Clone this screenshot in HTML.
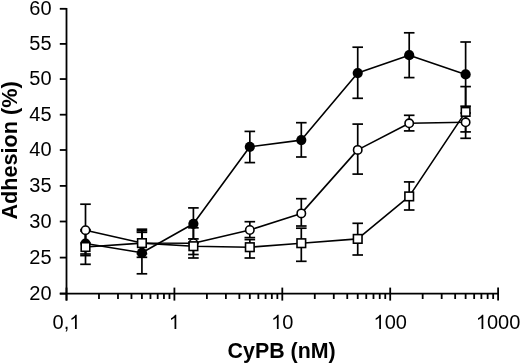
<!DOCTYPE html>
<html><head><meta charset="utf-8"><style>
html,body{margin:0;padding:0;background:#fff;width:520px;height:363px;overflow:hidden}
svg{display:block;will-change:transform}
.t{font-family:"Liberation Sans",sans-serif;font-size:20px;fill:#000}
.b{font-family:"Liberation Sans",sans-serif;font-size:21.5px;font-weight:bold;fill:#000}
</style></head><body>
<svg width="520" height="363" viewBox="0 0 520 363">
<line x1="66.5" y1="7.9" x2="66.5" y2="300.6" stroke="#000" stroke-width="1.8"/>
<line x1="59.8" y1="293.7" x2="499.00" y2="293.7" stroke="#000" stroke-width="1.8"/>
<line x1="59.8" y1="293.6" x2="66.5" y2="293.6" stroke="#000" stroke-width="1.8"/>
<text x="51.6" y="299.80" text-anchor="end" class="t">20</text>
<line x1="59.8" y1="257.6" x2="66.5" y2="257.6" stroke="#000" stroke-width="1.8"/>
<text x="51.6" y="263.80" text-anchor="end" class="t">25</text>
<line x1="59.8" y1="221.5" x2="66.5" y2="221.5" stroke="#000" stroke-width="1.8"/>
<text x="51.6" y="227.70" text-anchor="end" class="t">30</text>
<line x1="59.8" y1="185.9" x2="66.5" y2="185.9" stroke="#000" stroke-width="1.8"/>
<text x="51.6" y="192.10" text-anchor="end" class="t">35</text>
<line x1="59.8" y1="150.0" x2="66.5" y2="150.0" stroke="#000" stroke-width="1.8"/>
<text x="51.6" y="156.20" text-anchor="end" class="t">40</text>
<line x1="59.8" y1="114.7" x2="66.5" y2="114.7" stroke="#000" stroke-width="1.8"/>
<text x="51.6" y="120.90" text-anchor="end" class="t">45</text>
<line x1="59.8" y1="79.05" x2="66.5" y2="79.05" stroke="#000" stroke-width="1.8"/>
<text x="51.6" y="85.25" text-anchor="end" class="t">50</text>
<line x1="59.8" y1="43.9" x2="66.5" y2="43.9" stroke="#000" stroke-width="1.8"/>
<text x="51.6" y="50.10" text-anchor="end" class="t">55</text>
<line x1="59.8" y1="8.8" x2="66.5" y2="8.8" stroke="#000" stroke-width="1.8"/>
<text x="51.6" y="15.00" text-anchor="end" class="t">60</text>
<line x1="66.50" y1="287.6" x2="66.50" y2="300.6" stroke="#000" stroke-width="1.8"/>
<text x="52.60" y="329.0" class="t">0</text>
<text x="63.72" y="329.0" class="t">,</text>
<path transform="translate(69.28,329.0) scale(0.009766,-0.009766)" d="M583 0L763 0L763 1450L646 1450C615 1410 560 1340 486 1276C410 1210 320 1150 222 1104L222 930C280 952 340 982 412 1023C480 1062 540 1105 583 1147Z" fill="#000"/>
<line x1="98.98" y1="293.7" x2="98.98" y2="299" stroke="#000" stroke-width="1.8"/>
<line x1="117.98" y1="293.7" x2="117.98" y2="299" stroke="#000" stroke-width="1.8"/>
<line x1="131.46" y1="293.7" x2="131.46" y2="299" stroke="#000" stroke-width="1.8"/>
<line x1="141.92" y1="293.7" x2="141.92" y2="299" stroke="#000" stroke-width="1.8"/>
<line x1="150.46" y1="293.7" x2="150.46" y2="299" stroke="#000" stroke-width="1.8"/>
<line x1="157.69" y1="293.7" x2="157.69" y2="299" stroke="#000" stroke-width="1.8"/>
<line x1="163.94" y1="293.7" x2="163.94" y2="299" stroke="#000" stroke-width="1.8"/>
<line x1="169.46" y1="293.7" x2="169.46" y2="299" stroke="#000" stroke-width="1.8"/>
<line x1="174.40" y1="287.6" x2="174.40" y2="300.6" stroke="#000" stroke-width="1.8"/>
<path transform="translate(168.84,329.0) scale(0.009766,-0.009766)" d="M583 0L763 0L763 1450L646 1450C615 1410 560 1340 486 1276C410 1210 320 1150 222 1104L222 930C280 952 340 982 412 1023C480 1062 540 1105 583 1147Z" fill="#000"/>
<line x1="206.88" y1="293.7" x2="206.88" y2="299" stroke="#000" stroke-width="1.8"/>
<line x1="225.88" y1="293.7" x2="225.88" y2="299" stroke="#000" stroke-width="1.8"/>
<line x1="239.36" y1="293.7" x2="239.36" y2="299" stroke="#000" stroke-width="1.8"/>
<line x1="249.82" y1="293.7" x2="249.82" y2="299" stroke="#000" stroke-width="1.8"/>
<line x1="258.36" y1="293.7" x2="258.36" y2="299" stroke="#000" stroke-width="1.8"/>
<line x1="265.59" y1="293.7" x2="265.59" y2="299" stroke="#000" stroke-width="1.8"/>
<line x1="271.84" y1="293.7" x2="271.84" y2="299" stroke="#000" stroke-width="1.8"/>
<line x1="277.36" y1="293.7" x2="277.36" y2="299" stroke="#000" stroke-width="1.8"/>
<line x1="282.30" y1="287.6" x2="282.30" y2="300.6" stroke="#000" stroke-width="1.8"/>
<path transform="translate(271.18,329.0) scale(0.009766,-0.009766)" d="M583 0L763 0L763 1450L646 1450C615 1410 560 1340 486 1276C410 1210 320 1150 222 1104L222 930C280 952 340 982 412 1023C480 1062 540 1105 583 1147Z" fill="#000"/>
<text x="282.30" y="329.0" class="t">0</text>
<line x1="314.78" y1="293.7" x2="314.78" y2="299" stroke="#000" stroke-width="1.8"/>
<line x1="333.78" y1="293.7" x2="333.78" y2="299" stroke="#000" stroke-width="1.8"/>
<line x1="347.26" y1="293.7" x2="347.26" y2="299" stroke="#000" stroke-width="1.8"/>
<line x1="357.72" y1="293.7" x2="357.72" y2="299" stroke="#000" stroke-width="1.8"/>
<line x1="366.26" y1="293.7" x2="366.26" y2="299" stroke="#000" stroke-width="1.8"/>
<line x1="373.49" y1="293.7" x2="373.49" y2="299" stroke="#000" stroke-width="1.8"/>
<line x1="379.74" y1="293.7" x2="379.74" y2="299" stroke="#000" stroke-width="1.8"/>
<line x1="385.26" y1="293.7" x2="385.26" y2="299" stroke="#000" stroke-width="1.8"/>
<line x1="390.20" y1="287.6" x2="390.20" y2="300.6" stroke="#000" stroke-width="1.8"/>
<path transform="translate(373.52,329.0) scale(0.009766,-0.009766)" d="M583 0L763 0L763 1450L646 1450C615 1410 560 1340 486 1276C410 1210 320 1150 222 1104L222 930C280 952 340 982 412 1023C480 1062 540 1105 583 1147Z" fill="#000"/>
<text x="384.64" y="329.0" class="t">0</text>
<text x="395.76" y="329.0" class="t">0</text>
<line x1="422.68" y1="293.7" x2="422.68" y2="299" stroke="#000" stroke-width="1.8"/>
<line x1="441.68" y1="293.7" x2="441.68" y2="299" stroke="#000" stroke-width="1.8"/>
<line x1="455.16" y1="293.7" x2="455.16" y2="299" stroke="#000" stroke-width="1.8"/>
<line x1="465.62" y1="293.7" x2="465.62" y2="299" stroke="#000" stroke-width="1.8"/>
<line x1="474.16" y1="293.7" x2="474.16" y2="299" stroke="#000" stroke-width="1.8"/>
<line x1="481.39" y1="293.7" x2="481.39" y2="299" stroke="#000" stroke-width="1.8"/>
<line x1="487.64" y1="293.7" x2="487.64" y2="299" stroke="#000" stroke-width="1.8"/>
<line x1="493.16" y1="293.7" x2="493.16" y2="299" stroke="#000" stroke-width="1.8"/>
<line x1="498.10" y1="287.6" x2="498.10" y2="300.6" stroke="#000" stroke-width="1.8"/>
<path transform="translate(475.86,329.0) scale(0.009766,-0.009766)" d="M583 0L763 0L763 1450L646 1450C615 1410 560 1340 486 1276C410 1210 320 1150 222 1104L222 930C280 952 340 982 412 1023C480 1062 540 1105 583 1147Z" fill="#000"/>
<text x="486.98" y="329.0" class="t">0</text>
<text x="498.10" y="329.0" class="t">0</text>
<text x="509.22" y="329.0" class="t">0</text>
<line x1="85.50" y1="231" x2="85.50" y2="254" stroke="#000" stroke-width="1.7"/>
<line x1="80.20" y1="231" x2="90.80" y2="231" stroke="#000" stroke-width="1.7"/>
<line x1="80.20" y1="254" x2="90.80" y2="254" stroke="#000" stroke-width="1.7"/>
<line x1="141.92" y1="230.8" x2="141.92" y2="273.8" stroke="#000" stroke-width="1.7"/>
<line x1="136.62" y1="230.8" x2="147.22" y2="230.8" stroke="#000" stroke-width="1.7"/>
<line x1="136.62" y1="273.8" x2="147.22" y2="273.8" stroke="#000" stroke-width="1.7"/>
<line x1="193.40" y1="207.9" x2="193.40" y2="238.9" stroke="#000" stroke-width="1.7"/>
<line x1="188.10" y1="207.9" x2="198.70" y2="207.9" stroke="#000" stroke-width="1.7"/>
<line x1="188.10" y1="238.9" x2="198.70" y2="238.9" stroke="#000" stroke-width="1.7"/>
<line x1="249.82" y1="131.4" x2="249.82" y2="162.6" stroke="#000" stroke-width="1.7"/>
<line x1="244.52" y1="131.4" x2="255.12" y2="131.4" stroke="#000" stroke-width="1.7"/>
<line x1="244.52" y1="162.6" x2="255.12" y2="162.6" stroke="#000" stroke-width="1.7"/>
<line x1="301.30" y1="122.7" x2="301.30" y2="157.0" stroke="#000" stroke-width="1.7"/>
<line x1="296.00" y1="122.7" x2="306.60" y2="122.7" stroke="#000" stroke-width="1.7"/>
<line x1="296.00" y1="157.0" x2="306.60" y2="157.0" stroke="#000" stroke-width="1.7"/>
<line x1="357.72" y1="47.2" x2="357.72" y2="98.3" stroke="#000" stroke-width="1.7"/>
<line x1="352.42" y1="47.2" x2="363.02" y2="47.2" stroke="#000" stroke-width="1.7"/>
<line x1="352.42" y1="98.3" x2="363.02" y2="98.3" stroke="#000" stroke-width="1.7"/>
<line x1="409.20" y1="32.8" x2="409.20" y2="77.6" stroke="#000" stroke-width="1.7"/>
<line x1="403.90" y1="32.8" x2="414.50" y2="32.8" stroke="#000" stroke-width="1.7"/>
<line x1="403.90" y1="77.6" x2="414.50" y2="77.6" stroke="#000" stroke-width="1.7"/>
<line x1="465.62" y1="42" x2="465.62" y2="106.2" stroke="#000" stroke-width="1.7"/>
<line x1="460.32" y1="42" x2="470.92" y2="42" stroke="#000" stroke-width="1.7"/>
<line x1="460.32" y1="106.2" x2="470.92" y2="106.2" stroke="#000" stroke-width="1.7"/>
<line x1="85.50" y1="204.2" x2="85.50" y2="255.6" stroke="#000" stroke-width="1.7"/>
<line x1="80.20" y1="204.2" x2="90.80" y2="204.2" stroke="#000" stroke-width="1.7"/>
<line x1="80.20" y1="255.6" x2="90.80" y2="255.6" stroke="#000" stroke-width="1.7"/>
<line x1="141.92" y1="232.3" x2="141.92" y2="253.7" stroke="#000" stroke-width="1.7"/>
<line x1="136.62" y1="232.3" x2="147.22" y2="232.3" stroke="#000" stroke-width="1.7"/>
<line x1="136.62" y1="253.7" x2="147.22" y2="253.7" stroke="#000" stroke-width="1.7"/>
<line x1="193.40" y1="227.8" x2="193.40" y2="258" stroke="#000" stroke-width="1.7"/>
<line x1="188.10" y1="227.8" x2="198.70" y2="227.8" stroke="#000" stroke-width="1.7"/>
<line x1="188.10" y1="258" x2="198.70" y2="258" stroke="#000" stroke-width="1.7"/>
<line x1="249.82" y1="221.7" x2="249.82" y2="237.6" stroke="#000" stroke-width="1.7"/>
<line x1="244.52" y1="221.7" x2="255.12" y2="221.7" stroke="#000" stroke-width="1.7"/>
<line x1="244.52" y1="237.6" x2="255.12" y2="237.6" stroke="#000" stroke-width="1.7"/>
<line x1="301.30" y1="198.7" x2="301.30" y2="226" stroke="#000" stroke-width="1.7"/>
<line x1="296.00" y1="198.7" x2="306.60" y2="198.7" stroke="#000" stroke-width="1.7"/>
<line x1="296.00" y1="226" x2="306.60" y2="226" stroke="#000" stroke-width="1.7"/>
<line x1="357.72" y1="124.1" x2="357.72" y2="174.1" stroke="#000" stroke-width="1.7"/>
<line x1="352.42" y1="124.1" x2="363.02" y2="124.1" stroke="#000" stroke-width="1.7"/>
<line x1="352.42" y1="174.1" x2="363.02" y2="174.1" stroke="#000" stroke-width="1.7"/>
<line x1="409.20" y1="115.3" x2="409.20" y2="130.9" stroke="#000" stroke-width="1.7"/>
<line x1="403.90" y1="115.3" x2="414.50" y2="115.3" stroke="#000" stroke-width="1.7"/>
<line x1="403.90" y1="130.9" x2="414.50" y2="130.9" stroke="#000" stroke-width="1.7"/>
<line x1="465.62" y1="113" x2="465.62" y2="131.9" stroke="#000" stroke-width="1.7"/>
<line x1="460.32" y1="113" x2="470.92" y2="113" stroke="#000" stroke-width="1.7"/>
<line x1="460.32" y1="131.9" x2="470.92" y2="131.9" stroke="#000" stroke-width="1.7"/>
<line x1="85.50" y1="229.7" x2="85.50" y2="264.3" stroke="#000" stroke-width="1.7"/>
<line x1="80.20" y1="229.7" x2="90.80" y2="229.7" stroke="#000" stroke-width="1.7"/>
<line x1="80.20" y1="264.3" x2="90.80" y2="264.3" stroke="#000" stroke-width="1.7"/>
<line x1="141.92" y1="229.2" x2="141.92" y2="257.3" stroke="#000" stroke-width="1.7"/>
<line x1="136.62" y1="229.2" x2="147.22" y2="229.2" stroke="#000" stroke-width="1.7"/>
<line x1="136.62" y1="257.3" x2="147.22" y2="257.3" stroke="#000" stroke-width="1.7"/>
<line x1="193.40" y1="243" x2="193.40" y2="254.5" stroke="#000" stroke-width="1.7"/>
<line x1="188.10" y1="243" x2="198.70" y2="243" stroke="#000" stroke-width="1.7"/>
<line x1="188.10" y1="254.5" x2="198.70" y2="254.5" stroke="#000" stroke-width="1.7"/>
<line x1="249.82" y1="239.6" x2="249.82" y2="258" stroke="#000" stroke-width="1.7"/>
<line x1="244.52" y1="239.6" x2="255.12" y2="239.6" stroke="#000" stroke-width="1.7"/>
<line x1="244.52" y1="258" x2="255.12" y2="258" stroke="#000" stroke-width="1.7"/>
<line x1="301.30" y1="228.2" x2="301.30" y2="261.3" stroke="#000" stroke-width="1.7"/>
<line x1="296.00" y1="228.2" x2="306.60" y2="228.2" stroke="#000" stroke-width="1.7"/>
<line x1="296.00" y1="261.3" x2="306.60" y2="261.3" stroke="#000" stroke-width="1.7"/>
<line x1="357.72" y1="223.3" x2="357.72" y2="255" stroke="#000" stroke-width="1.7"/>
<line x1="352.42" y1="223.3" x2="363.02" y2="223.3" stroke="#000" stroke-width="1.7"/>
<line x1="352.42" y1="255" x2="363.02" y2="255" stroke="#000" stroke-width="1.7"/>
<line x1="409.20" y1="181.9" x2="409.20" y2="210" stroke="#000" stroke-width="1.7"/>
<line x1="403.90" y1="181.9" x2="414.50" y2="181.9" stroke="#000" stroke-width="1.7"/>
<line x1="403.90" y1="210" x2="414.50" y2="210" stroke="#000" stroke-width="1.7"/>
<line x1="465.62" y1="86.6" x2="465.62" y2="138.3" stroke="#000" stroke-width="1.7"/>
<line x1="460.32" y1="86.6" x2="470.92" y2="86.6" stroke="#000" stroke-width="1.7"/>
<line x1="460.32" y1="138.3" x2="470.92" y2="138.3" stroke="#000" stroke-width="1.7"/>
<polyline points="85.50,243.5 141.92,252.8 193.40,223.8 249.82,146.8 301.30,140.1 357.72,73.1 409.20,55.2 465.62,74.4" fill="none" stroke="#000" stroke-width="1.6" stroke-linejoin="round"/>
<polyline points="85.50,230.2 141.92,243.0 193.40,243.2 249.82,230.0 301.30,213.4 357.72,149.9 409.20,123.3 465.62,122.3" fill="none" stroke="#000" stroke-width="1.6" stroke-linejoin="round"/>
<polyline points="85.50,247.0 141.92,243.1 193.40,246.2 249.82,247.2 301.30,243.2 357.72,238.9 409.20,196.4 465.62,111.9" fill="none" stroke="#000" stroke-width="1.6" stroke-linejoin="round"/>
<circle cx="85.50" cy="243.5" r="5.1" fill="#000"/>
<circle cx="141.92" cy="252.8" r="5.1" fill="#000"/>
<circle cx="193.40" cy="223.8" r="5.1" fill="#000"/>
<circle cx="249.82" cy="146.8" r="5.1" fill="#000"/>
<circle cx="301.30" cy="140.1" r="5.1" fill="#000"/>
<circle cx="357.72" cy="73.1" r="5.1" fill="#000"/>
<circle cx="409.20" cy="55.2" r="5.1" fill="#000"/>
<circle cx="465.62" cy="74.4" r="5.1" fill="#000"/>
<circle cx="85.50" cy="230.2" r="4.2" fill="#fff" stroke="#000" stroke-width="1.6"/>
<circle cx="141.92" cy="243.0" r="4.2" fill="#fff" stroke="#000" stroke-width="1.6"/>
<circle cx="193.40" cy="243.2" r="4.2" fill="#fff" stroke="#000" stroke-width="1.6"/>
<circle cx="249.82" cy="230.0" r="4.2" fill="#fff" stroke="#000" stroke-width="1.6"/>
<circle cx="301.30" cy="213.4" r="4.2" fill="#fff" stroke="#000" stroke-width="1.6"/>
<circle cx="357.72" cy="149.9" r="4.2" fill="#fff" stroke="#000" stroke-width="1.6"/>
<circle cx="409.20" cy="123.3" r="4.2" fill="#fff" stroke="#000" stroke-width="1.6"/>
<circle cx="465.62" cy="122.3" r="4.2" fill="#fff" stroke="#000" stroke-width="1.6"/>
<rect x="81.20" y="242.70" width="8.6" height="8.6" fill="#fff" stroke="#000" stroke-width="1.6"/>
<rect x="137.62" y="238.80" width="8.6" height="8.6" fill="#fff" stroke="#000" stroke-width="1.6"/>
<rect x="189.10" y="241.90" width="8.6" height="8.6" fill="#fff" stroke="#000" stroke-width="1.6"/>
<rect x="245.52" y="242.90" width="8.6" height="8.6" fill="#fff" stroke="#000" stroke-width="1.6"/>
<rect x="297.00" y="238.90" width="8.6" height="8.6" fill="#fff" stroke="#000" stroke-width="1.6"/>
<rect x="353.42" y="234.60" width="8.6" height="8.6" fill="#fff" stroke="#000" stroke-width="1.6"/>
<rect x="404.90" y="192.10" width="8.6" height="8.6" fill="#fff" stroke="#000" stroke-width="1.6"/>
<rect x="461.32" y="107.60" width="8.6" height="8.6" fill="#fff" stroke="#000" stroke-width="1.6"/>
<text x="227.6" y="357.5" class="b" textLength="108" lengthAdjust="spacingAndGlyphs">CyPB (nM)</text>
<text transform="translate(16.5,219.5) rotate(-90)" x="0" y="0" class="b" textLength="138.2" lengthAdjust="spacingAndGlyphs">Adhesion (%)</text>
</svg>
</body></html>
